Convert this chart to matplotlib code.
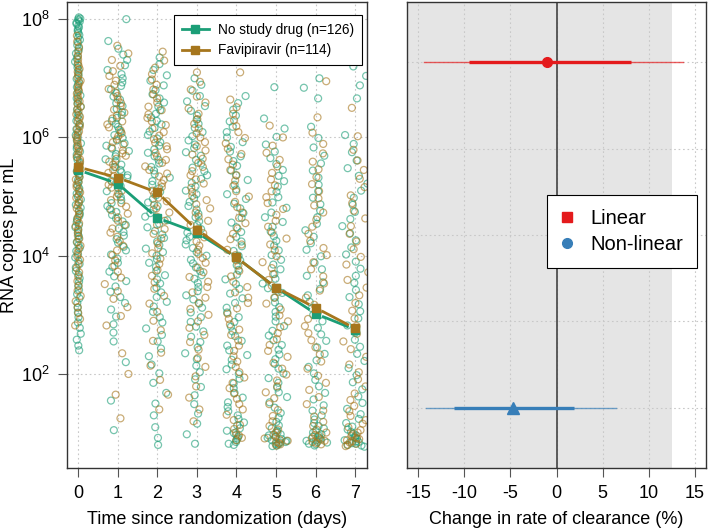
import numpy as np
import matplotlib
matplotlib.use('Agg')
import matplotlib.pyplot as plt
from matplotlib.lines import Line2D

plt.rcParams['font.family'] = ['Liberation Sans', 'DejaVu Sans']
plt.rcParams['mathtext.fontset'] = 'custom'
plt.rcParams['mathtext.rm'] = 'Liberation Sans'
plt.rcParams['axes.unicode_minus'] = False

# ---- left panel data: log10 RNA copies per mL, per day and arm ----
days = [0, 1, 2, 3, 4, 5, 6, 7]

no_drug = {
    0: [8.03, 8.01, 8.00, 7.98, 7.96, 7.94, 7.92, 7.89, 7.86, 7.83, 7.80, 7.77, 7.73, 7.69, 7.65,
        7.61, 7.56, 7.51, 7.47, 7.42, 7.37, 7.33, 7.28, 7.23, 7.18, 7.14, 7.09, 7.04, 6.99, 6.95,
        6.90, 6.85, 6.80, 6.76, 6.71, 6.66, 6.61, 6.57, 6.52, 6.47, 6.42, 6.38, 6.33, 6.28, 6.23,
        6.19, 6.14, 6.09, 6.04, 6.00, 5.95, 5.90, 5.85, 5.81, 5.76, 5.71, 5.66, 5.62, 5.57, 5.52,
        5.47, 5.43, 5.38, 5.33, 5.28, 5.24, 5.19, 5.14, 5.09, 5.05, 5.00, 4.95, 4.90, 4.86, 4.81,
        4.76, 4.71, 4.67, 4.62, 4.57, 4.52, 4.48, 4.43, 4.38, 4.33, 4.28, 4.23, 4.18, 4.13, 4.08,
        4.02, 3.97, 3.91, 3.86, 3.80, 3.74, 3.68, 3.62, 3.56, 3.49, 3.42, 3.35, 3.28, 3.20, 3.12,
        3.04, 2.96, 2.87, 2.78, 2.68, 2.58, 2.48, 2.40],
    1: [8.00, 7.63, 7.50, 7.40, 7.31, 7.22, 7.14, 7.07, 7.00, 6.93, 6.87, 6.81, 6.75, 6.69, 6.64,
        6.58, 6.53, 6.48, 6.43, 6.38, 6.33, 6.28, 6.23, 6.18, 6.13, 6.09, 6.04, 5.99, 5.95, 5.90,
        5.86, 5.81, 5.77, 5.72, 5.68, 5.63, 5.59, 5.54, 5.50, 5.45, 5.41, 5.36, 5.32, 5.27, 5.23,
        5.18, 5.14, 5.09, 5.04, 4.99, 4.94, 4.89, 4.84, 4.79, 4.74, 4.69, 4.63, 4.58, 4.52, 4.46,
        4.40, 4.34, 4.28, 4.22, 4.15, 4.09, 4.02, 3.95, 3.88, 3.81, 3.73, 3.65, 3.57, 3.48, 3.39,
        3.30, 3.20, 3.09, 2.97, 2.84, 2.70, 2.55, 2.20, 1.55, 1.05],
    2: [7.35, 7.24, 7.14, 7.05, 6.96, 6.88, 6.80, 6.73, 6.66, 6.59, 6.52, 6.46, 6.40, 6.34, 6.28,
        6.22, 6.16, 6.10, 6.04, 5.98, 5.92, 5.86, 5.80, 5.74, 5.68, 5.62, 5.56, 5.50, 5.44, 5.38,
        5.32, 5.26, 5.20, 5.14, 5.08, 5.02, 4.96, 4.90, 4.84, 4.78, 4.72, 4.66, 4.60, 4.54, 4.48,
        4.42, 4.36, 4.30, 4.24, 4.18, 4.12, 4.06, 4.00, 3.94, 3.88, 3.81, 3.74, 3.67, 3.60, 3.53,
        3.46, 3.38, 3.30, 3.22, 3.14, 3.05, 2.96, 2.87, 2.77, 2.66, 2.55, 2.43, 2.30, 2.16, 2.01,
        1.85, 1.68, 1.50, 1.30, 1.10, 0.92, 0.80],
    3: [7.00, 6.89, 6.79, 6.70, 6.61, 6.53, 6.45, 6.37, 6.30, 6.23, 6.16, 6.09, 6.02, 5.95, 5.88,
        5.82, 5.75, 5.69, 5.62, 5.56, 5.49, 5.43, 5.36, 5.30, 5.23, 5.17, 5.10, 5.04, 4.97, 4.91,
        4.84, 4.78, 4.71, 4.65, 4.58, 4.52, 4.45, 4.39, 4.32, 4.26, 4.19, 4.13, 4.06, 4.00, 3.93,
        3.87, 3.80, 3.74, 3.67, 3.61, 3.54, 3.47, 3.40, 3.33, 3.26, 3.19, 3.12, 3.04, 2.96, 2.88,
        2.80, 2.72, 2.63, 2.54, 2.45, 2.35, 2.25, 2.14, 2.03, 1.91, 1.78, 1.64, 1.49, 1.33, 1.16,
        0.98, 0.82],
    4: [6.70, 6.58, 6.47, 6.37, 6.27, 6.18, 6.09, 6.00, 5.92, 5.84, 5.76, 5.68, 5.60, 5.52, 5.44,
        5.36, 5.28, 5.20, 5.12, 5.04, 4.96, 4.88, 4.80, 4.72, 4.64, 4.56, 4.48, 4.40, 4.32, 4.24,
        4.16, 4.08, 4.00, 3.92, 3.84, 3.76, 3.68, 3.60, 3.52, 3.44, 3.36, 3.28, 3.20, 3.12, 3.04,
        2.96, 2.88, 2.80, 2.72, 2.64, 2.56, 2.48, 2.40, 2.32, 2.24, 2.16, 2.08, 2.00, 1.92, 1.84,
        1.76, 1.68, 1.60, 1.52, 1.44, 1.37, 1.30, 1.24, 1.18, 1.13, 1.08, 1.04, 1.00, 0.97, 0.94,
        0.91, 0.88, 0.85, 0.82, 0.80],
    5: [6.85, 6.32, 6.15, 6.01, 5.88, 5.76, 5.65, 5.55, 5.45, 5.35, 5.26, 5.17, 5.08, 4.99, 4.90,
        4.81, 4.73, 4.65, 4.57, 4.49, 4.41, 4.33, 4.25, 4.17, 4.09, 4.01, 3.93, 3.85, 3.77, 3.69,
        3.61, 3.53, 3.45, 3.37, 3.29, 3.21, 3.13, 3.05, 2.97, 2.89, 2.81, 2.73, 2.65, 2.57, 2.49,
        2.41, 2.33, 2.25, 2.17, 2.09, 2.01, 1.93, 1.85, 1.77, 1.69, 1.61, 1.52, 1.43, 1.34, 1.26,
        1.19, 1.13, 1.08, 1.04, 1.01, 0.98, 0.96, 0.94, 0.92, 0.90, 0.88, 0.87, 0.85, 0.84, 0.82,
        0.81, 0.79, 0.78],
    6: [7.00, 6.84, 6.66, 6.18, 5.99, 5.83, 5.69, 5.56, 5.44, 5.32, 5.20, 5.09, 4.98, 4.87, 4.76,
        4.65, 4.54, 4.43, 4.32, 4.21, 4.10, 3.99, 3.88, 3.77, 3.66, 3.55, 3.44, 3.33, 3.22, 3.11,
        3.00, 2.89, 2.78, 2.67, 2.56, 2.45, 2.34, 2.23, 2.12, 2.01, 1.90, 1.79, 1.68, 1.57, 1.47,
        1.38, 1.30, 1.23, 1.17, 1.12, 1.08, 1.04, 1.01, 0.98, 0.96, 0.94, 0.92, 0.90, 0.88, 0.87,
        0.85, 0.84, 0.82, 0.81, 0.79],
    7: [7.20, 7.04, 6.88, 6.66, 6.04, 5.89, 5.75, 5.61, 5.48, 5.35, 5.22, 5.10, 4.98, 4.86, 4.74,
        4.62, 4.50, 4.38, 4.26, 4.14, 4.02, 3.90, 3.78, 3.66, 3.54, 3.42, 3.30, 3.18, 3.06, 2.94,
        2.82, 2.70, 2.58, 2.46, 2.34, 2.22, 2.10, 1.98, 1.86, 1.74, 1.62, 1.51, 1.41, 1.32, 1.24,
        1.17, 1.11, 1.06, 1.02, 0.99, 0.96, 0.94, 0.92, 0.90, 0.88, 0.86, 0.85, 0.83, 0.82, 0.80,
        0.79, 0.77],
}

favipiravir = {
    0: [7.72, 7.62, 7.53, 7.45, 7.38, 7.32, 7.26, 7.21, 7.16, 7.11, 7.06, 7.01, 6.96, 6.92, 6.87,
        6.83, 6.78, 6.74, 6.70, 6.65, 6.61, 6.57, 6.52, 6.48, 6.44, 6.39, 6.35, 6.31, 6.27, 6.22,
        6.18, 6.14, 6.10, 6.05, 6.01, 5.97, 5.93, 5.88, 5.84, 5.80, 5.76, 5.71, 5.67, 5.63, 5.59,
        5.54, 5.50, 5.46, 5.42, 5.37, 5.33, 5.29, 5.25, 5.20, 5.16, 5.12, 5.07, 5.03, 4.98, 4.94,
        4.89, 4.85, 4.80, 4.75, 4.70, 4.65, 4.60, 4.55, 4.50, 4.45, 4.40, 4.34, 4.29, 4.23, 4.17,
        4.11, 4.05, 3.99, 3.93, 3.86, 3.79, 3.72, 3.65, 3.57, 3.49, 3.41, 3.32, 3.23, 3.13, 3.03,
        2.93, 2.82],
    1: [7.55, 7.42, 7.31, 7.21, 7.12, 7.04, 6.96, 6.89, 6.82, 6.76, 6.70, 6.64, 6.58, 6.53, 6.47,
        6.42, 6.37, 6.32, 6.27, 6.22, 6.17, 6.12, 6.07, 6.02, 5.97, 5.92, 5.88, 5.83, 5.78, 5.73,
        5.69, 5.64, 5.59, 5.54, 5.50, 5.45, 5.40, 5.35, 5.30, 5.25, 5.20, 5.15, 5.10, 5.05, 5.00,
        4.94, 4.89, 4.83, 4.77, 4.71, 4.65, 4.59, 4.52, 4.46, 4.39, 4.32, 4.25, 4.17, 4.09, 4.01,
        3.92, 3.83, 3.73, 3.63, 3.52, 3.40, 3.27, 3.13, 2.98, 2.82, 2.35, 2.00, 1.65, 1.25],
    2: [7.45, 7.30, 7.18, 7.07, 6.98, 6.89, 6.81, 6.73, 6.66, 6.59, 6.52, 6.46, 6.39, 6.33, 6.27,
        6.21, 6.15, 6.09, 6.03, 5.97, 5.91, 5.85, 5.80, 5.74, 5.68, 5.62, 5.57, 5.51, 5.45, 5.39,
        5.34, 5.28, 5.22, 5.16, 5.10, 5.04, 4.98, 4.92, 4.86, 4.80, 4.73, 4.66, 4.59, 4.52, 4.45,
        4.37, 4.29, 4.21, 4.13, 4.04, 3.95, 3.86, 3.76, 3.66, 3.55, 3.44, 3.32, 3.19, 3.05, 2.90,
        2.74, 2.56, 2.36, 2.14, 1.90, 1.65, 1.40],
    3: [7.10, 6.94, 6.81, 6.69, 6.59, 6.49, 6.40, 6.31, 6.23, 6.15, 6.07, 6.00, 5.92, 5.85, 5.78,
        5.71, 5.64, 5.57, 5.50, 5.43, 5.36, 5.29, 5.22, 5.15, 5.08, 5.01, 4.94, 4.87, 4.80, 4.73,
        4.66, 4.59, 4.52, 4.45, 4.38, 4.31, 4.24, 4.17, 4.10, 4.03, 3.96, 3.88, 3.80, 3.72, 3.64,
        3.56, 3.47, 3.38, 3.29, 3.20, 3.10, 3.00, 2.89, 2.78, 2.66, 2.54, 2.41, 2.27, 2.12, 1.96,
        1.79, 1.60, 1.40, 1.20],
    4: [7.10, 6.64, 6.51, 6.40, 6.29, 6.19, 6.09, 5.99, 5.90, 5.81, 5.72, 5.63, 5.54, 5.45, 5.36,
        5.27, 5.18, 5.09, 5.00, 4.91, 4.82, 4.73, 4.64, 4.55, 4.46, 4.37, 4.28, 4.19, 4.10, 4.01,
        3.92, 3.83, 3.74, 3.65, 3.56, 3.47, 3.38, 3.29, 3.20, 3.11, 3.02, 2.93, 2.84, 2.75, 2.66,
        2.57, 2.48, 2.39, 2.30, 2.21, 2.12, 2.03, 1.94, 1.85, 1.76, 1.67, 1.58, 1.49, 1.40, 1.31,
        1.22, 1.14, 1.07, 1.01, 0.96, 0.92, 0.88],
    5: [6.20, 6.00, 5.86, 5.74, 5.62, 5.51, 5.40, 5.29, 5.19, 5.09, 4.99, 4.89, 4.79, 4.69, 4.59,
        4.49, 4.39, 4.29, 4.19, 4.09, 3.99, 3.89, 3.79, 3.69, 3.59, 3.49, 3.39, 3.29, 3.19, 3.09,
        2.99, 2.89, 2.79, 2.69, 2.59, 2.49, 2.39, 2.29, 2.19, 2.09, 1.99, 1.89, 1.79, 1.69, 1.59,
        1.49, 1.39, 1.29, 1.20, 1.12, 1.06, 1.01, 0.97, 0.94, 0.91, 0.89, 0.87, 0.85, 0.83, 0.81,
        0.79],
    6: [6.95, 6.34, 6.08, 5.89, 5.73, 5.59, 5.46, 5.33, 5.21, 5.09, 4.97, 4.85, 4.73, 4.61, 4.49,
        4.37, 4.25, 4.13, 4.01, 3.89, 3.77, 3.65, 3.53, 3.41, 3.29, 3.17, 3.05, 2.93, 2.81, 2.69,
        2.57, 2.45, 2.33, 2.21, 2.09, 1.97, 1.85, 1.73, 1.61, 1.49, 1.38, 1.28, 1.19, 1.12, 1.06,
        1.01, 0.97, 0.94, 0.91, 0.89, 0.87, 0.85, 0.83, 0.81],
    7: [6.50, 6.02, 5.79, 5.61, 5.45, 5.30, 5.16, 5.02, 4.89, 4.76, 4.63, 4.50, 4.37, 4.24, 4.11,
        3.98, 3.85, 3.72, 3.59, 3.46, 3.33, 3.20, 3.07, 2.94, 2.81, 2.68, 2.55, 2.42, 2.29, 2.16,
        2.03, 1.91, 1.79, 1.67, 1.56, 1.46, 1.37, 1.29, 1.22, 1.16, 1.10, 1.05, 1.01, 0.98, 0.95,
        0.92, 0.90, 0.88, 0.86, 0.84, 0.82, 0.80, 0.78],
}

# summary lines (log10)
no_drug_mid = [5.45, 5.22, 4.64, 4.39, 3.97, 3.46, 3.02, 2.75]
favi_mid = [5.50, 5.32, 5.07, 4.44, 3.97, 3.46, 3.12, 2.77]

arm_labels = ['No study drug (n=126)', 'Favipiravir (n=114)']
green = '#1B9E77'
brown = '#A6761D'

# ---- right panel data: change in rate of clearance (%) ----
models = ['Linear', 'Non-linear']
estimate = [-1.0, -4.7]
ci80_low = [-9.5, -11.1]
ci80_high = [8.1, 1.9]
ci95_low = [-14.4, -14.1]
ci95_high = [13.7, 6.4]
futility_limit = 12.5

fig = plt.figure(figsize=(7.08, 5.29), dpi=100)
ax = fig.add_axes([67 / 708, 61 / 529, 300 / 708, 466 / 529])
ax2 = fig.add_axes([407 / 708, 61 / 529, 299 / 708, 466 / 529])

# ----------------- left panel -----------------
ax.set_yscale('log')
ax.set_xlim(-0.28, 7.3)
ax.set_ylim(10 ** 0.41, 10 ** 8.29)


def hash01(k):
    # deterministic scatter for horizontal jitter only
    return (np.sin(k * 12.9898 + 78.233) * 43758.5453) % 1.0


def jitter(n, width, seed):
    k = np.arange(n) + seed * 1000
    return (hash01(k) + hash01(k + 517.3) - 1.0) * width


for d in days:
    w = 0.08 if d == 0 else 0.36
    for vals, col, sd in [(no_drug[d], green, 2 * d + 1), (favipiravir[d], brown, 2 * d + 2)]:
        v = np.array(vals)
        xs = d + jitter(len(v), w, sd)
        ax.scatter(xs, 10 ** v, s=25, facecolors='none', edgecolors=col,
                   linewidths=0.9, alpha=0.6, zorder=2)


def gapped_line(xv, yv, col, gap=7):
    pts = ax.transData.transform(np.column_stack([xv, yv]))
    inv = ax.transData.inverted()
    for p, q in zip(pts[:-1], pts[1:]):
        dvec = q - p
        L = np.hypot(*dvec)
        if L <= 2 * gap:
            continue
        u = dvec / L
        a = inv.transform(p + u * gap)
        b = inv.transform(q - u * gap)
        ax.plot([a[0], b[0]], [a[1], b[1]], color=col, lw=2.0, zorder=4,
                solid_capstyle='butt')
    ax.plot(xv, yv, ls='none', marker='s', ms=5.5, color=col, zorder=5)


gapped_line(days, 10 ** np.array(no_drug_mid), green)
gapped_line(days, 10 ** np.array(favi_mid), brown)

ax.set_xticks(days)
ax.set_yticks([1e2, 1e4, 1e6, 1e8])
ax.set_yticklabels(['$10^{2}$', '$10^{4}$', '$10^{6}$', '$10^{8}$'])
ax.yaxis.set_minor_locator(matplotlib.ticker.NullLocator())
ax.grid(True, ls=(0, (1.5, 2.5)), color='#C8C8C8', lw=0.8, zorder=0)
ax.set_axisbelow(True)
ax.set_xlabel('Time since randomization (days)', fontsize=13, labelpad=6)
ax.set_ylabel('RNA copies per mL', fontsize=13, va='center')
ax.yaxis.set_label_coords(-0.19, 0.5)

handles = [Line2D([], [], color=green, lw=2, marker='s', ms=5.5),
           Line2D([], [], color=brown, lw=2, marker='s', ms=5.5)]
leg = ax.legend(handles, arm_labels, loc='upper right', bbox_to_anchor=(0.983, 0.972),
                borderaxespad=0, fontsize=9.8, fancybox=False, framealpha=1,
                edgecolor='black', handlelength=2.0, handletextpad=0.7, borderpad=0.55)
leg.get_frame().set_linewidth(0.8)

# ----------------- right panel -----------------
ax2.set_xlim(-16.2, 16.2)
ax2.set_ylim(0.3, 5.7)
ax2.axvspan(-16.2, futility_limit, color='#E5E5E5', lw=0, zorder=0)
ax2.set_xticks([-15, -10, -5, 0, 5, 10, 15])
ax2.set_yticks([1, 2, 3, 4, 5])
ax2.tick_params(axis='y', left=False, labelleft=False)
ax2.grid(True, ls=(0, (1.5, 2.5)), color='#C8C8C8', lw=0.8, zorder=1)
ax2.set_axisbelow(True)
ax2.axvline(0, color='#444444', lw=1.2, zorder=2)

cols = ['#E41A1C', '#377EB8']
marks = ['o', '^']
msizes = [7, 9]
ypos = [5, 1]
for i in range(len(models)):
    ax2.plot([ci95_low[i], ci95_high[i]], [ypos[i]] * 2, color=cols[i], lw=1.0, alpha=0.7, zorder=3)
    ax2.plot([ci80_low[i], ci80_high[i]], [ypos[i]] * 2, color=cols[i], lw=2.4,
             solid_capstyle='butt', zorder=4)
    ax2.plot(estimate[i], ypos[i], marker=marks[i], ms=msizes[i], color=cols[i], zorder=5)

ax2.set_xlabel('Change in rate of clearance (%)', fontsize=13, labelpad=6)

handles2 = [Line2D([], [], ls='none', marker='s', ms=7, color=cols[0]),
            Line2D([], [], ls='none', marker='o', ms=7, color=cols[1])]
leg2 = ax2.legend(handles2, models, loc='upper right', bbox_to_anchor=(0.97, 0.586),
                  borderaxespad=0, fontsize=14.5, fancybox=False, framealpha=1,
                  edgecolor='black', handlelength=0.6, handletextpad=0.85, borderpad=0.7,
                  labelspacing=0.35)
leg2.get_frame().set_linewidth(0.8)

for a in (ax, ax2):
    for s in a.spines.values():
        s.set_color('#333333')
        s.set_linewidth(1.0)
    a.tick_params(axis='both', direction='out', length=6.5, width=0.8, color='#555555',
                  labelsize=13, pad=6)

fig.savefig('out.png', dpi=100)
